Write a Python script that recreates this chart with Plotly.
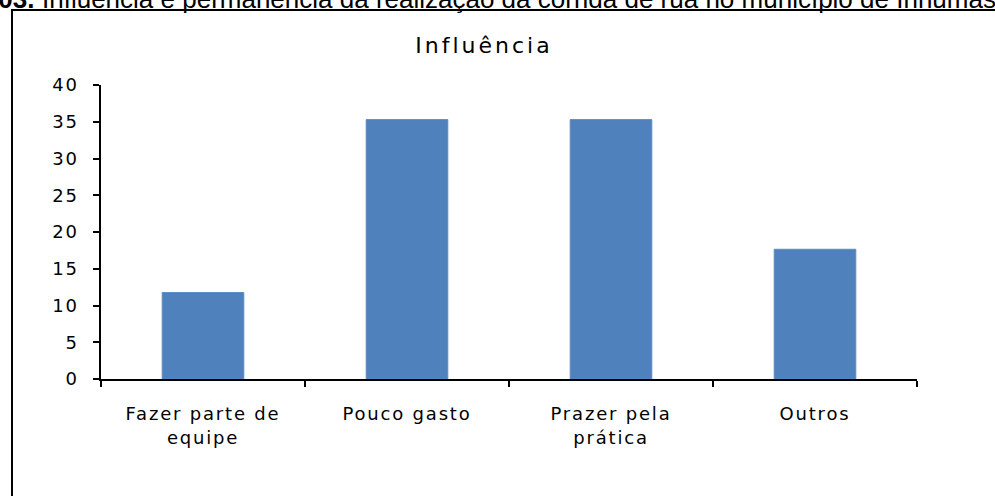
import plotly.graph_objects as go

categories = ["Fazer parte de<br>equipe", "Pouco gasto", "Prazer pela<br>prática", "Outros"]
values = [11.76, 35.29, 35.29, 17.65]
y_ticks = [0, 5, 10, 15, 20, 25, 30, 35, 40]

chart_title = "Influência"
caption_bold = "Gráfico 03."
caption_text = "Influência e permanência da realização da corrida de rua no município de Inhumas"

W, H = 995, 496
L, R, T, B = 101, 78, 85, 117
PW, PH = W - L - R, H - T - B


def spaced(text, sp):
    # the source image is stretched sideways, so widen text with letter-spacing
    return "<br>".join(
        f"<span style='letter-spacing:{sp}px'>{part}</span>" for part in text.split("<br>")
    )


def px_x(px):
    return (px - L) / PW


def px_y(py):
    return (H - B - py) / PH


fig = go.Figure()
fig.add_trace(go.Bar(
    x=list(range(len(categories))),
    y=values,
    marker=dict(color="#4f81bd", line=dict(color="#5b8cc6", width=1)),
    width=0.4,
))

fig.update_layout(
    width=W,
    height=H,
    margin=dict(l=L, r=R, t=T, b=B),
    paper_bgcolor="white",
    plot_bgcolor="white",
    showlegend=False,
    font=dict(family="DejaVu Sans", size=18, color="black"),
    title=dict(
        text=spaced(chart_title, 3),
        font=dict(family="DejaVu Sans", size=22, color="black"),
        x=px_x(484), xref="paper", xanchor="center",
        y=1 - 45 / H, yref="container", yanchor="middle",
    ),
)

fig.update_xaxes(
    tickmode="array",
    tickvals=list(range(len(categories))),
    ticktext=[spaced(c, 1.8) for c in categories],
    range=[-0.5, len(categories) - 0.5],
    showline=True, linecolor="black", linewidth=1.5,
    showgrid=False, zeroline=False,
    ticklabelstandoff=18,
    # tick marks sit between the categories
    minor=dict(tickmode="array", tickvals=[-0.5, 0.5, 1.5, 2.5, 3.5],
               ticks="outside", ticklen=6, tickcolor="black", tickwidth=1.5),
    ticks="",
)

fig.update_yaxes(
    range=[0, 40],
    tickmode="array",
    tickvals=y_ticks,
    ticktext=[spaced(str(v), 1.8) for v in y_ticks],
    showline=True, linecolor="black", linewidth=1.5,
    ticks="outside", ticklen=6, tickcolor="black", tickwidth=1.5,
    showgrid=False, zeroline=False,
    ticklabelstandoff=11,
)

# outer frame of the figure, cut by the image edges
fig.add_shape(
    type="rect", xref="paper", yref="paper",
    x0=px_x(12), x1=px_x(1100), y0=px_y(600), y1=px_y(10),
    line=dict(color="black", width=2), fillcolor="rgba(0,0,0,0)",
)

# caption of the document, clipped at the top of the image
fig.add_annotation(
    text=f"<b>{caption_bold}</b>", xref="paper", yref="paper",
    x=px_x(36), y=px_y(16), xanchor="right", yanchor="bottom",
    showarrow=False, font=dict(family="Liberation Sans", size=26, color="black"),
)
fig.add_annotation(
    text=caption_text, xref="paper", yref="paper",
    x=px_x(40), y=px_y(16), xanchor="left", yanchor="bottom",
    showarrow=False, font=dict(family="Liberation Sans", size=26, color="black"),
)

fig.write_html(
    "out.html",
    config={"displayModeBar": False},
    post_script="document.body.style.margin='0';",
)
